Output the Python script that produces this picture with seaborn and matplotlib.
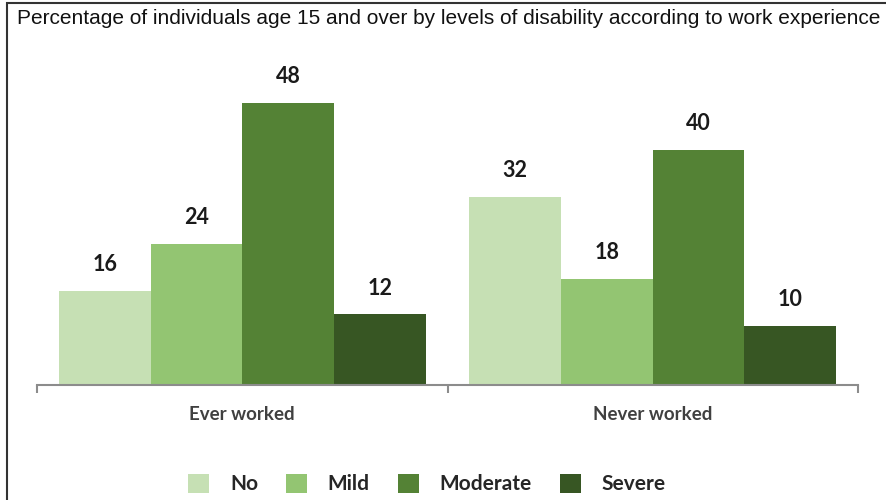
import pandas as pd
import matplotlib.pyplot as plt
import seaborn as sns
from matplotlib.patches import Patch, Rectangle

groups = ['Ever worked', 'Never worked']
levels = ['No', 'Mild', 'Moderate', 'Severe']
ever_worked = [16, 24, 48, 12]
never_worked = [32, 18, 40, 10]
colors = ['#c6e0b4', '#93c572', '#548235', '#375623']

df = pd.DataFrame({
    'Group': [groups[0]] * 4 + [groups[1]] * 4,
    'Level': levels + levels,
    'Value': ever_worked + never_worked,
})

sns.set_style('white')
plt.rcParams['font.family'] = ['Lato', 'DejaVu Sans']

fig = plt.figure(figsize=(8.86, 5), dpi=100)
ax = fig.add_axes([37 / 886, 1 - 385 / 500, 821 / 886, 341 / 500])

sns.barplot(data=df, x='Group', y='Value', hue='Level', hue_order=levels,
            palette=colors, width=0.894, linewidth=0, saturation=1,
            ax=ax, legend=False)

ax.set_xlim(-0.5, 1.5)
ax.set_ylim(0, 58)
ax.set_yticks([])
ax.set_xlabel('')
ax.set_ylabel('')
for s in ['top', 'right', 'left']:
    ax.spines[s].set_visible(False)
ax.spines['bottom'].set_color('#8c8c8c')
ax.spines['bottom'].set_linewidth(1.5)

ax.set_xticks([0, 1])
ax.set_xticklabels(groups, fontsize=13.5, fontweight='bold', color='#404040')
ax.tick_params(axis='x', which='major', length=0, pad=15)
ax.set_xticks([-0.5, 0.5, 1.5], minor=True)
ax.tick_params(axis='x', which='minor', length=6, width=1.5, color='#8c8c8c',
               direction='out', bottom=True)

for cont in ax.containers:
    for bar in cont:
        h = bar.get_height()
        ax.annotate(f'{h:.0f}', (bar.get_x() + bar.get_width() / 2, h),
                    xytext=(0, 19), textcoords='offset points',
                    ha='center', va='center', fontsize=15.5, fontweight='bold',
                    color='#1a1a1a')

fig.text(17 / 886, 1 - 18 / 500,
         'Percentage of individuals age 15 and over by levels of disability according to work experience',
         family=['Liberation Sans', 'DejaVu Sans'], fontsize=15, ha='left', va='center',
         color='#111111')

handles = [Patch(facecolor=c, edgecolor='none') for c in colors]
fig.legend(handles, levels, loc='center', bbox_to_anchor=(427 / 886, 1 - 484 / 500),
           ncol=4, frameon=False, handlelength=1.0, handleheight=1.05,
           handletextpad=1.0, columnspacing=1.35,
           prop={'family': ['Lato', 'DejaVu Sans'], 'weight': 'bold', 'size': 15})

fig.patches.append(Rectangle((7 / 886, -0.1), 1.2, 1.1 - 3 / 500, transform=fig.transFigure,
                             fill=False, edgecolor='#333333', linewidth=1.5))

fig.savefig('out.png', dpi=100)
